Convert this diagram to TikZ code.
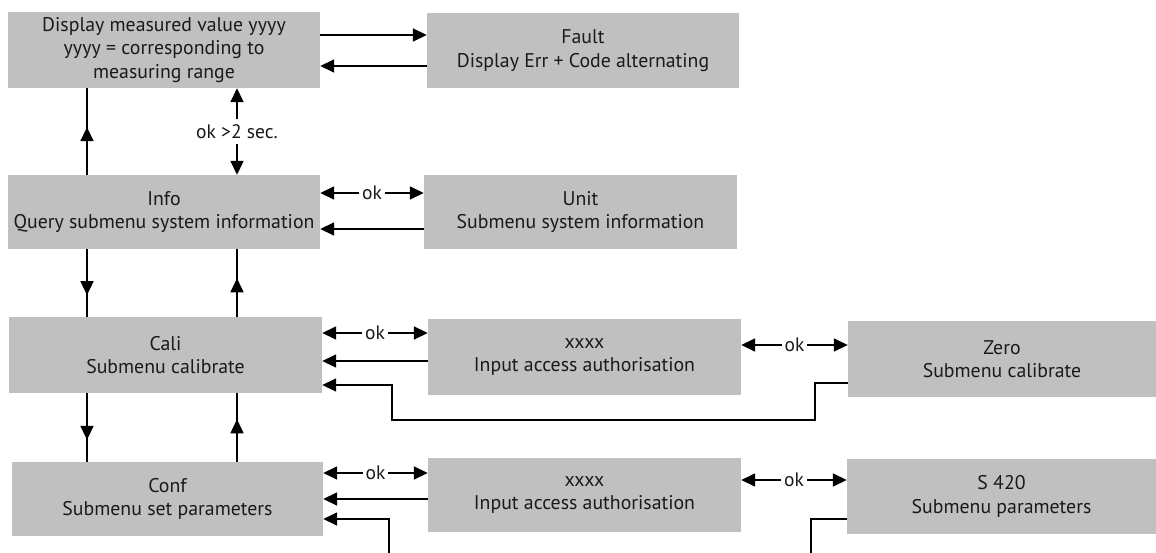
\documentclass[tikz,border=0pt]{standalone}
\usepackage{fontspec}
\setmainfont{PT Sans}
\usetikzlibrary{arrows.meta,decorations.markings,calc}
\definecolor{boxgray}{HTML}{C0C0C0}
\definecolor{txt}{HTML}{1A1A1A}
\begin{document}
\begin{tikzpicture}[x=1pt,y=-1pt,
  box/.style={draw=none, fill=boxgray, align=center, text=txt,
    font=\fontsize{19.8}{23.5}\selectfont, inner sep=0pt},
  conn/.style={line width=1.6pt, -{Triangle[length=14pt,width=13pt]}},
  plain/.style={line width=1.6pt},
  both/.style={line width=1.6pt, {Triangle[length=14pt,width=13pt]}-{Triangle[length=14pt,width=13pt]}},
  midarr/.style={line width=1.6pt, postaction={decorate},
    decoration={markings, mark=at position #1 with {\arrow{Triangle[length=14pt,width=13pt]}}}},
  lbl/.style={fill=white, text=txt, inner xsep=3pt, inner ysep=2pt, font=\fontsize{19.5}{22}\selectfont},
  lblv/.style={fill=white, text=txt, inner xsep=2pt, inner ysep=5pt, font=\fontsize{19.5}{22}\selectfont}
]
\useasboundingbox (0,0) rectangle (1156,553);

% boxes
\node[box, minimum width=312pt, minimum height=76pt] (disp) at (164,50)
  {Display measured value yyyy\\yyyy = corresponding to\\measuring range};
\node[box, minimum width=312pt, minimum height=75pt] (fault) at (583,50.5)
  {Fault\\Display Err + Code alternating};
\node[box, minimum width=312pt, minimum height=74pt] (info) at (164,212)
  {Info\\Query submenu system information};
\node[box, minimum width=313pt, minimum height=74pt] (unit) at (580.5,212)
  {Unit\\Submenu system information};
\node[box, minimum width=313pt, minimum height=76pt] (cali) at (165.5,355)
  {Cali\\Submenu calibrate};
\node[box, minimum width=313pt, minimum height=76pt] (xx1) at (584.5,357)
  {xxxx\\Input access authorisation};
\node[box, minimum width=308pt, minimum height=76pt] (zero) at (1002,359)
  {Zero\\Submenu calibrate};
\node[box, minimum width=311pt, minimum height=74pt] (conf) at (167.5,499)
  {Conf\\Submenu set parameters};
\node[box, minimum width=313pt, minimum height=74pt] (xx2) at (584.5,495)
  {xxxx\\Input access authorisation};
\node[box, minimum width=309pt, minimum height=75pt] (s420) at (1001.5,496.5)
  {S 420\\Submenu parameters};

% level coordinates
\coordinate (l1) at (0,35);
\coordinate (l2) at (0,66);
\coordinate (l3) at (0,193);
\coordinate (l4) at (0,229);
\coordinate (l5) at (0,333);
\coordinate (l6) at (0,361);
\coordinate (l7) at (0,385);
\coordinate (l8) at (0,345);
\coordinate (l9) at (0,473);
\coordinate (l10) at (0,499);
\coordinate (l11) at (0,519);
\coordinate (l12) at (0,480);
\coordinate (l13) at (0,383);
\coordinate (c1) at (87,0);
\coordinate (c2) at (237,0);
\coordinate (k1) at (815,420);
\coordinate (k2) at (392,385);
\coordinate (b1) at (389,553);
\coordinate (b2) at (811,553);

% top row
\draw[conn] (disp.east |- l1) -- (fault.west |- l1);
\draw[conn] (fault.west |- l2) -- (disp.east |- l2);

% verticals
\draw[midarr=0.55] (info.north -| c1) -- (disp.south -| c1);
\draw[both] (disp.south -| c2) -- node[lblv] {ok >2 sec.} (info.north -| c2);
\draw[midarr=0.68] (info.south -| c1) -- (cali.north -| c1);
\draw[midarr=0.57] (cali.north -| c2) -- (info.south -| c2);
\draw[midarr=0.68] (cali.south -| c1) -- (conf.north -| c1);
\draw[midarr=0.62] (conf.north -| c2) -- (cali.south -| c2);

% info row
\draw[both] (info.east |- l3) -- node[lbl] {ok} (unit.west |- l3);
\draw[conn] (unit.west |- l4) -- (info.east |- l4);

% cali row
\draw[both] (cali.east |- l5) -- node[lbl] {ok} (xx1.west |- l5);
\draw[conn] (xx1.west |- l6) -- (cali.east |- l6);
\draw[both] (xx1.east |- l8) -- node[lbl] {ok} (zero.west |- l8);
\draw[conn] (zero.west |- l13) -| (k1) -| (k2) -- (cali.east |- l7);

% conf row
\draw[both] (conf.east |- l9) -- node[lbl] {ok} (xx2.west |- l9);
\draw[conn] (xx2.west |- l10) -- (conf.east |- l10);
\draw[both] (xx2.east |- l12) -- node[lbl] {ok} (s420.west |- l12);
\draw[conn] (b1) |- (conf.east |- l11);
\draw[plain] (s420.west |- l11) -| (b2);
\end{tikzpicture}
\end{document}
